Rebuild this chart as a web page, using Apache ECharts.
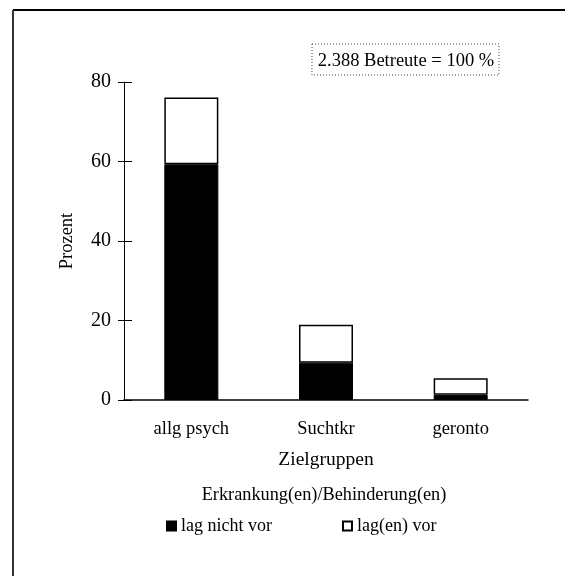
<!DOCTYPE html>
<html>
<head>
<meta charset="utf-8">
<script src="https://cdn.jsdelivr.net/npm/echarts@6/dist/echarts.min.js"></script>
<style>html,body{margin:0;padding:0;background:#fff}#c{width:565px;height:576px}</style>
</head>
<body>
<div id="c"></div>
<script>
const categories = ['allg psych', 'Suchtkr', 'geronto'];
const lagNichtVor = [59.3, 9.4, 1.3];
const lagenVor = [16.8, 9.5, 4.2];
const yTicks = [0, 20, 40, 60, 80];
const seriesNames = ['lag nicht vor', 'lag(en) vor'];
const legendTitle = 'Erkrankung(en)/Behinderung(en)';
const boxText = '2.388 Betreute = 100 %';

const F = 'Liberation Serif';
const chart = echarts.init(document.getElementById('c'));
chart.setOption({
  animation: false,
  backgroundColor: '#fff',
  textStyle: { fontFamily: F, color: '#000' },
  grid: { left: 124, right: 37, top: 82, bottom: 176 },
  xAxis: {
    type: 'category',
    data: categories,
    axisLine: { lineStyle: { color: '#000', width: 1.5 } },
    axisTick: { show: false },
    axisLabel: { color: '#000', fontFamily: F, fontSize: 18.5, margin: 20 },
    name: 'Zielgruppen',
    nameLocation: 'middle',
    nameGap: 50,
    nameTextStyle: { color: '#000', fontFamily: F, fontSize: 19.5 }
  },
  yAxis: [{
    type: 'value', position: 'left',
    min: yTicks[0], max: yTicks[yTicks.length - 1], interval: 20,
    axisLine: { show: true, lineStyle: { color: '#000', width: 1 } },
    axisTick: { show: true, length: 6, lineStyle: { color: '#000' } },
    splitLine: { show: false },
    axisLabel: { color: '#000', fontFamily: F, fontSize: 20, margin: 13 },
    name: 'Prozent', nameLocation: 'middle', nameRotate: 90, nameGap: 47,
    nameTextStyle: { color: '#000', fontFamily: F, fontSize: 18.5 }
  }, {
    type: 'value', position: 'left',
    min: yTicks[0], max: yTicks[yTicks.length - 1], interval: 20,
    axisLine: { show: false },
    axisTick: { show: true, inside: true, length: 8, lineStyle: { color: '#000' } },
    splitLine: { show: false },
    axisLabel: { show: false }
  }],
  legend: {
    left: 166, top: 517, padding: 0,
    itemWidth: 9, itemHeight: 9, itemGap: 70,
    icon: 'rect',
    textStyle: { color: '#000', fontFamily: F, fontSize: 18 },
    data: seriesNames
  },
  series: [{
    name: seriesNames[0], type: 'bar', stack: 't', data: lagNichtVor,
    barWidth: 54,
    itemStyle: { color: '#000', borderColor: '#000', borderWidth: 1 }
  }, {
    name: seriesNames[1], type: 'bar', stack: 't', data: lagenVor,
    barWidth: 54,
    itemStyle: { color: '#fff', borderColor: '#000', borderWidth: 1.5 }
  }],
  graphic: [
    { type: 'line', shape: { x1: 13, y1: 10, x2: 565, y2: 10 }, style: { stroke: '#000', lineWidth: 2 } },
    { type: 'line', shape: { x1: 13, y1: 10, x2: 13, y2: 576 }, style: { stroke: '#333', lineWidth: 2 } },
    { type: 'rect', shape: { x: 312, y: 44, width: 187, height: 31 },
      style: { fill: 'none', stroke: '#444', lineWidth: 1, lineDash: [1, 2] } },
    { type: 'text', x: 406, y: 61,
      style: { text: boxText, fontFamily: F, fontSize: 18.5, fill: '#000', align: 'center', verticalAlign: 'middle' } },
    { type: 'text', x: 324, y: 495,
      style: { text: legendTitle, fontFamily: F, fontSize: 18.3, fill: '#000', align: 'center', verticalAlign: 'middle' } }
  ]
});
</script>
</body>
</html>
